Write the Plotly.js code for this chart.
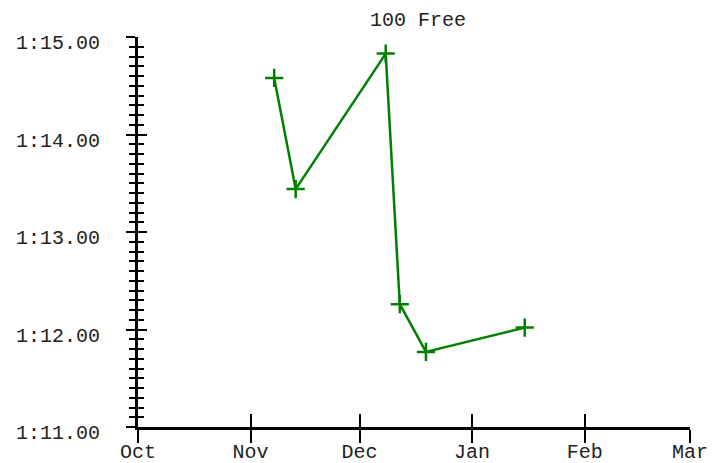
<!DOCTYPE html>
<html>
<head>
<meta charset="utf-8">
<script src="https://cdn.plot.ly/plotly-3.0.1.min.js"></script>
<style>html,body{margin:0;padding:0;background:#fff;}#chart{width:722px;height:463px;}</style>
</head>
<body>
<div id="chart"></div>
<script>
// Swim times for 100 Free (seconds)
const dates = ["2023-11-07 12:00", "2023-11-13 10:00", "2023-12-08 05:00", "2023-12-12 02:00", "2023-12-19 07:00", "2024-01-15 12:00"];
const times = [74.58, 73.44, 74.83, 72.26, 71.77, 72.02];
const yTickVals = [71, 72, 73, 74, 75];
const yTickText = ["1:11.00", "1:12.00", "1:13.00", "1:14.00", "1:15.00"];
const xRange = ["2023-10-01", "2024-03-01"];
const yRange = [71, 75];
const chartTitle = "100 Free";

const green = "#008000";
const fontFam = "Liberation Mono, Courier New, monospace";
const txtColor = "#222";

const traces = [
  {
    x: dates, y: times, type: "scatter", mode: "lines+markers",
    line: {color: green, width: 2.5},
    marker: {symbol: "cross-thin-open", size: 13, line: {color: green, width: 2.5}, color: green},
    showlegend: false, hoverinfo: "skip"
  },
  {x: [], y: [], xaxis: "x2", yaxis: "y2", type: "scatter", showlegend: false}
];

const common = {showgrid: false, zeroline: false, showline: true, linecolor: "#000", linewidth: 3, tickcolor: "#000", tickwidth: 2};

const layout = {
  width: 722, height: 463,
  margin: {l: 138, r: 32, t: 37, b: 36},
  paper_bgcolor: "#fff", plot_bgcolor: "#fff",
  font: {family: fontFam, size: 20, color: txtColor},
  title: {text: chartTitle, font: {family: fontFam, size: 20, color: txtColor}, xref: "container", x: 418/722, xanchor: "center", yref: "container", y: 1 - 18.5/463, yanchor: "middle"},
  // label-carrying axes use inside ticks so label offset stays small
  xaxis: Object.assign({}, common, {type: "date", range: xRange, tickformat: "%b", dtick: "M1", tick0: "2023-10-01", ticks: "inside", ticklen: 13, ticklabelstandoff: 4, tickfont: {family: fontFam, size: 20, color: txtColor}}),
  xaxis2: Object.assign({}, common, {type: "date", overlaying: "x", matches: "x", range: xRange, dtick: "M1", tick0: "2023-10-01", ticks: "outside", ticklen: 13, showticklabels: false, side: "bottom", anchor: "y"}),
  yaxis: Object.assign({}, common, {range: yRange, tickmode: "array", tickvals: yTickVals, ticktext: yTickText, ticks: "inside", ticklen: 9,
    minor: {tickmode: "linear", tick0: 71, dtick: 0.1, ticks: "inside", ticklen: 6, tickwidth: 2, tickcolor: "#000"},
    ticklabelstandoff: 31, ticklabelshift: 5, tickfont: {family: fontFam, size: 20, color: txtColor}}),
  yaxis2: Object.assign({}, common, {range: yRange, overlaying: "y", matches: "y", anchor: "x", side: "left", tickmode: "array", tickvals: yTickVals, ticks: "outside", ticklen: 9, showticklabels: false,
    minor: {tickmode: "linear", tick0: 71, dtick: 0.1, ticks: "outside", ticklen: 6, tickwidth: 2, tickcolor: "#000"}})
};

Plotly.newPlot("chart", traces, layout, {displayModeBar: false, staticPlot: true});
</script>
</body>
</html>
